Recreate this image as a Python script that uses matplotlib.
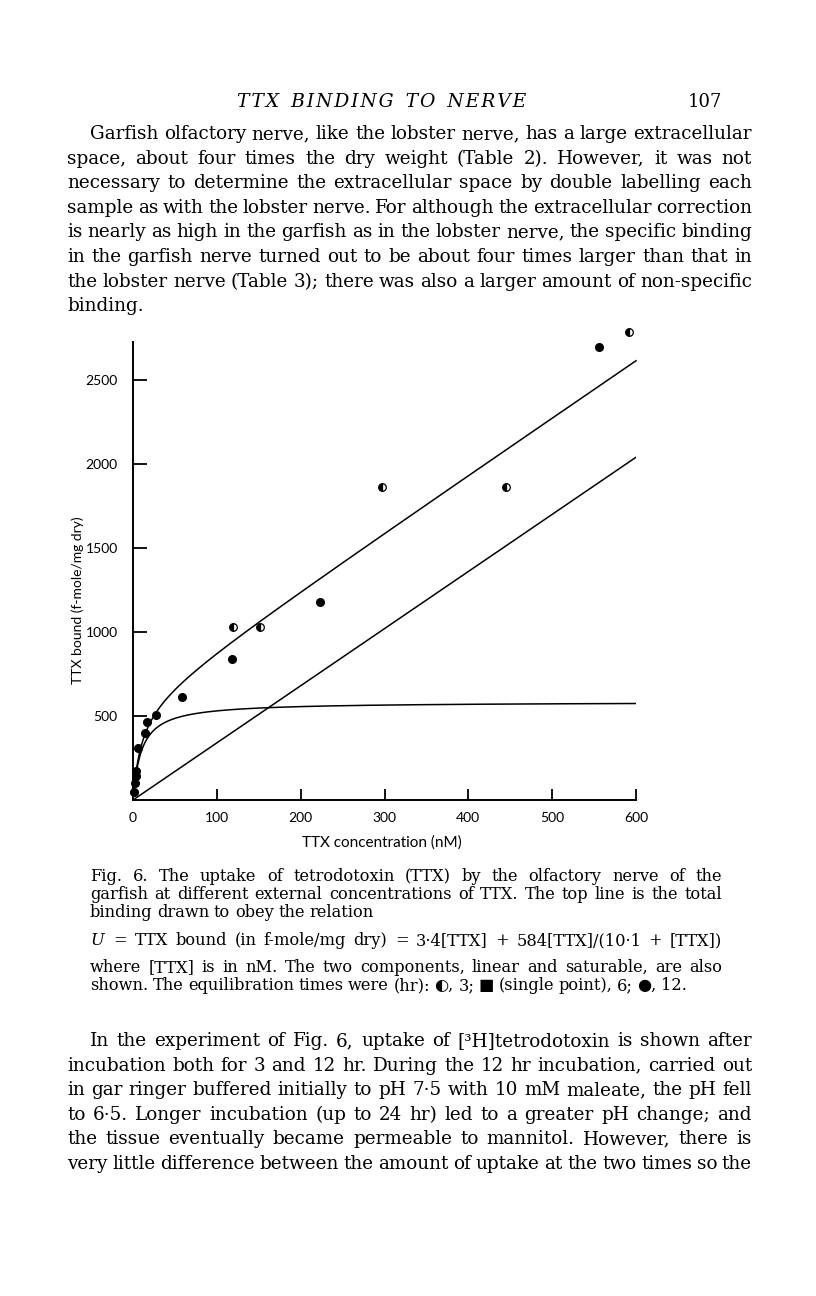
import numpy as np
import matplotlib
matplotlib.use("Agg")
import matplotlib.pyplot as plt

# ---------------- data ----------------
# model from caption: U = 3.4[TTX] + 584[TTX]/(10.1+[TTX])
lin_slope = 3.4
sat_max = 584.0
sat_k = 10.1

# 3 hr points (half-filled circles)
x3 = [119, 151, 297, 445, 592]
y3 = [1030, 1030, 1860, 1860, 2787]
# 12 hr points (filled circles)
x12 = [1, 2, 3, 3.5, 6, 14, 17, 28, 58, 118, 223, 556]
y12 = [45, 100, 140, 172, 308, 397, 464, 504, 613, 840, 1178, 2698]

xticks = [0, 100, 200, 300, 400, 500, 600]
yticks = [500, 1000, 1500, 2000, 2500]

W, H = 816, 1296
fig = plt.figure(figsize=(W / 100, H / 100), dpi=100)
plt.rcParams['mathtext.fontset'] = 'dejavuserif'

# ---------------- chart ----------------
ax = fig.add_axes([133 / W, 1 - 800 / H, (636 - 133) / W, (800 - 342) / H])
ax.set_xlim(0, 600)
ax.set_ylim(0, 2726)
for s in ['top', 'right']:
    ax.spines[s].set_visible(False)
for s in ['left', 'bottom']:
    ax.spines[s].set_linewidth(1.4)

xx = np.linspace(0, 600, 1200)
lin = lin_slope * xx
sat = sat_max * xx / (sat_k + xx)
ax.plot(xx, lin + sat, color='black', lw=1.1, clip_on=False)
ax.plot(xx, sat, color='black', lw=1.1)
ax.plot(xx, lin, color='black', lw=1.1)

ax.plot(x12, y12, 'o', color='black', ms=5.5, clip_on=False, zorder=5)
ax.plot(x3, y3, 'o', ms=5.5, markerfacecolor='black', markerfacecoloralt='white',
        fillstyle='left', markeredgecolor='black', markeredgewidth=0.9,
        clip_on=False, zorder=5)

tickfont = dict(family='Lato', size=10)
ax.set_xticks(xticks)
ax.set_xticklabels([str(t) for t in xticks], fontdict=tickfont)
ax.set_yticks(yticks)
ax.set_yticklabels([str(t) for t in yticks], fontdict=tickfont)
ax.tick_params(axis='x', direction='in', length=8, width=1.3, pad=9)
ax.tick_params(axis='y', direction='in', length=10, width=1.3, pad=11)

fig.text(78 / W, 1 - 600 / H, 'TTX bound (f-mole/mg dry)', rotation=90,
         ha='center', va='center', family='Lato', size=10)
fig.text(382 / W, 1 - 843 / H, 'TTX concentration (nM)', ha='center',
         va='center', family='Lato', size=11)

# ---------------- page text ----------------
renderer = fig.canvas.get_renderer()
serif = ['DejaVu Serif', 'DejaVu Sans']


def put_line(line, baseline, x0, x1, size, justify=True, style='normal'):
    words = line.split(' ')
    texts, widths = [], []
    for w in words:
        t = fig.text(0, 1 - baseline / H, w, family=serif, size=size,
                     style=style, va='baseline', ha='left')
        widths.append(t.get_window_extent(renderer).width)
        texts.append(t)
    spw = size * 100 / 72 * 0.28
    if justify and len(words) > 1:
        gap = (x1 - x0 - sum(widths)) / (len(words) - 1)
    else:
        gap = spw
    x = x0
    for t, w in zip(texts, widths):
        t.set_x(x / W)
        x += w + gap


# header
hs = '\u200a'
header = '  '.join(hs.join(list(w)) for w in ['TTX', 'BINDING', 'TO', 'NERVE'])
fig.text(382 / W, 1 - 107 / H, header, family=serif,
         size=13.5, style='italic', ha='center', va='baseline')
fig.text(722 / W, 1 - 107 / H, '107', family=serif, size=13, ha='right', va='baseline')

body_size = 13.2
L, R = 67, 752
para1 = [
    "Garfish olfactory nerve, like the lobster nerve, has a large extracellular",
    "space, about four times the dry weight (Table 2). However, it was not",
    "necessary to determine the extracellular space by double labelling each",
    "sample as with the lobster nerve. For although the extracellular correction",
    "is nearly as high in the garfish as in the lobster nerve, the specific binding",
    "in the garfish nerve turned out to be about four times larger than that in",
    "the lobster nerve (Table 3); there was also a larger amount of non-specific",
    "binding.",
]
b0 = 139
for i, line in enumerate(para1):
    x0 = 90 if i == 0 else L
    put_line(line, b0 + i * 24.6, x0, R, body_size, justify=(i < len(para1) - 1))

cap_size = 11.7
CL, CR = 90, 722
caption = [
    ("Fig. 6. The uptake of tetrodotoxin (TTX) by the olfactory nerve of the", 881, True),
    ("garfish at different external concentrations of TTX. The top line is the total", 899, True),
    ("binding drawn to obey the relation", 917, False),
    (r"$U$ = TTX bound (in f-mole/mg dry) = 3·4[TTX] + 584[TTX]/(10·1 + [TTX])", 945, True),
    ("where [TTX] is in nM. The two components, linear and saturable, are also", 972, True),
    ("shown. The equilibration times were (hr): \u25D0, 3; \u25A0 (single point), 6; \u25CF, 12.", 990, False),
]
for line, bl, j in caption:
    put_line(line, bl, CL, CR, cap_size, justify=j)

para2 = [
    "In the experiment of Fig. 6, uptake of [\u00B3H]tetrodotoxin is shown after",
    "incubation both for 3 and 12 hr. During the 12 hr incubation, carried out",
    "in gar ringer buffered initially to pH 7·5 with 10 mM maleate, the pH fell",
    "to 6·5. Longer incubation (up to 24 hr) led to a greater pH change; and",
    "the tissue eventually became permeable to mannitol. However, there is",
    "very little difference between the amount of uptake at the two times so the",
]
b1 = 1046
for i, line in enumerate(para2):
    x0 = 90 if i == 0 else L
    put_line(line, b1 + i * 24.6, x0, R, body_size, justify=True)

fig.savefig('out.png', dpi=100)
